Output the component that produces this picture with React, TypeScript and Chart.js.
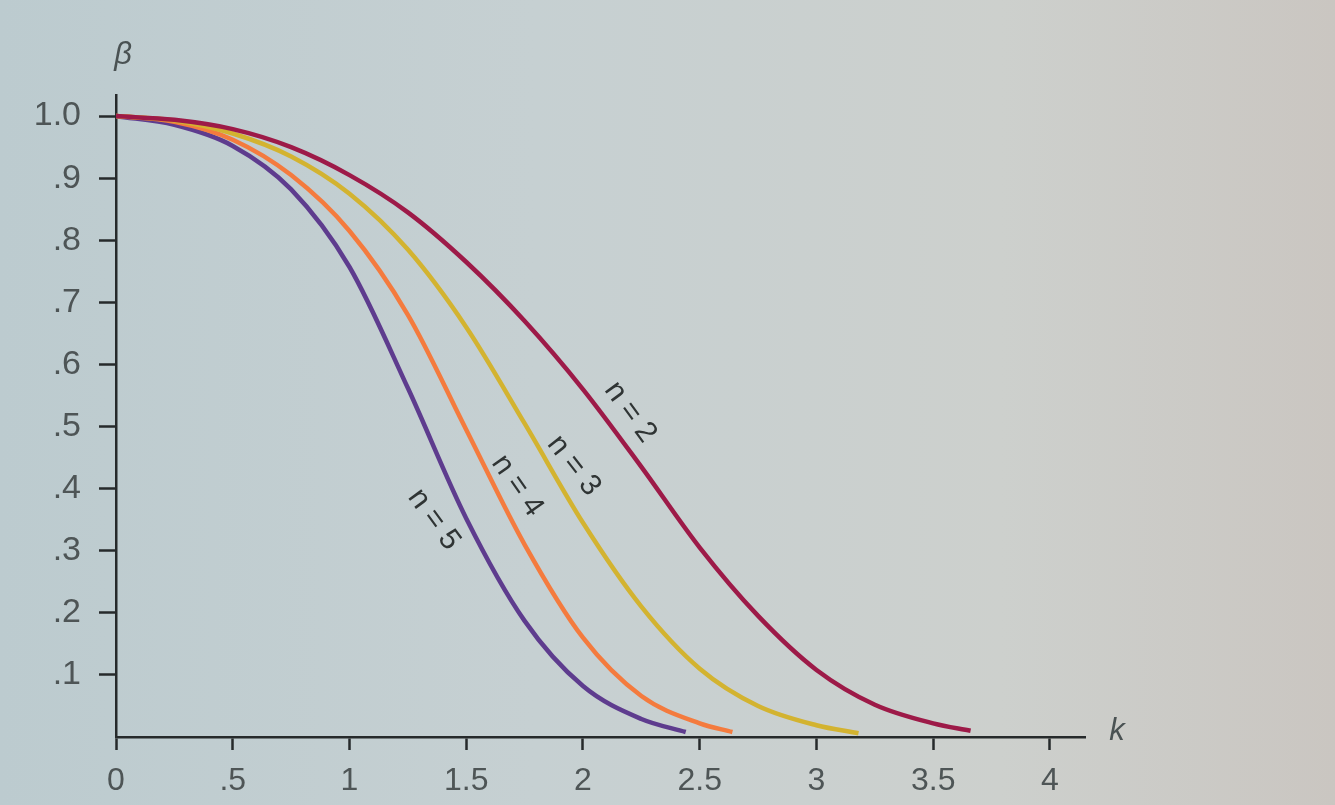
import React, { useEffect, useRef } from "react";
import { Chart, registerables } from "chart.js";

Chart.register(...registerables);

// ---- data (k = shift in sigma units, beta = probability of acceptance) ----
const seriesLabels = ["n = 2", "n = 3", "n = 4", "n = 5"];

const kN2 = [0, 0.25, 0.5, 0.75, 1.0, 1.25, 1.5, 1.75, 2.0, 2.25, 2.5, 2.75, 3.0, 3.25, 3.5, 3.66];
const betaN2 = [1.0, 0.994, 0.979, 0.95, 0.905, 0.845, 0.765, 0.67, 0.56, 0.435, 0.305, 0.195, 0.108, 0.052, 0.022, 0.01];

const kN3 = [0, 0.25, 0.5, 0.75, 1.0, 1.25, 1.5, 1.75, 2.0, 2.25, 2.5, 2.75, 3.0, 3.18];
const betaN3 = [1.0, 0.993, 0.972, 0.935, 0.875, 0.785, 0.66, 0.505, 0.345, 0.21, 0.11, 0.05, 0.019, 0.006];

const kN4 = [0, 0.25, 0.5, 0.75, 1.0, 1.25, 1.5, 1.75, 2.0, 2.25, 2.5, 2.64];
const betaN4 = [1.0, 0.991, 0.962, 0.905, 0.815, 0.68, 0.495, 0.31, 0.16, 0.066, 0.022, 0.008];

const kN5 = [0, 0.25, 0.5, 0.75, 1.0, 1.25, 1.5, 1.75, 2.0, 2.25, 2.44];
const betaN5 = [1.0, 0.986, 0.952, 0.882, 0.757, 0.562, 0.352, 0.187, 0.082, 0.029, 0.008];

const xTicks = [0, 0.5, 1, 1.5, 2, 2.5, 3, 3.5, 4];
const xTickLabels = ["0", ".5", "1", "1.5", "2", "2.5", "3", "3.5", "4"];
const yTicks = [0.1, 0.2, 0.3, 0.4, 0.5, 0.6, 0.7, 0.8, 0.9, 1.0];
const yTickLabels = [".1", ".2", ".3", ".4", ".5", ".6", ".7", ".8", ".9", "1.0"];

// ---- styling ----
const lineColors = ["#9d1a48", "#d3b330", "#f47b3e", "#5e3c8e"];
const axisColor = "#262a2b";
const tickTextColor = "#4e5556";
const fontFamily = '"Liberation Sans", Arial, sans-serif';

// curve label placement: beta level along the curve, perpendicular offset (px), text angle (deg)
const labelBetas = [0.5, 0.42, 0.39, 0.37];
const labelOffsets = [24, 21, 20, -30];
const labelAngles = [54, 52, 55, 54];

const seriesK = [kN2, kN3, kN4, kN5];
const seriesBeta = [betaN2, betaN3, betaN4, betaN5];

const curveLabelPlugin = {
  id: "curveLabels",
  afterDatasetsDraw(chart: any) {
    const { ctx } = chart;
    const xs = chart.scales.x;
    const ys = chart.scales.y;
    chart.data.datasets.forEach((ds: any, i: number) => {
      const pts = ds.data as { x: number; y: number }[];
      const target = labelBetas[i];
      for (let j = 0; j < pts.length - 1; j++) {
        const a = pts[j];
        const b = pts[j + 1];
        if (a.y >= target && b.y <= target) {
          const t = (a.y - target) / (a.y - b.y);
          const k = a.x + t * (b.x - a.x);
          const px = xs.getPixelForValue(k);
          const py = ys.getPixelForValue(target);
          const dx = xs.getPixelForValue(b.x) - xs.getPixelForValue(a.x);
          const dy = ys.getPixelForValue(b.y) - ys.getPixelForValue(a.y);
          const len = Math.hypot(dx, dy);
          const nx = dy / len;
          const ny = -dx / len;
          const cx = px + nx * labelOffsets[i];
          const cy = py + ny * labelOffsets[i];
          ctx.save();
          ctx.translate(cx, cy);
          ctx.rotate((labelAngles[i] * Math.PI) / 180);
          ctx.font = `30px ${fontFamily}`;
          ctx.fillStyle = "#2f3434";
          ctx.textAlign = "center";
          ctx.textBaseline = "middle";
          ctx.fillText(seriesLabels[i], 0, 0);
          ctx.restore();
          break;
        }
      }
    });
  },
};

const axisTitlePlugin = {
  id: "axisTitles",
  afterDraw(chart: any) {
    const { ctx, chartArea } = chart;
    ctx.save();
    ctx.font = `italic 31px ${fontFamily}`;
    ctx.fillStyle = "#4a5253";
    ctx.textAlign = "center";
    ctx.textBaseline = "middle";
    ctx.fillText("β", chartArea.left + 7, chartArea.top - 40);
    ctx.fillText("k", chartArea.right + 32, chartArea.bottom - 6);
    ctx.restore();
  },
};

export default function App() {
  const canvasRef = useRef<HTMLCanvasElement | null>(null);

  useEffect(() => {
    if (!canvasRef.current) return;
    const datasets = seriesLabels.map((label, i) => ({
      label,
      data: seriesK[i].map((k, j) => ({ x: k, y: seriesBeta[i][j] })),
      borderColor: lineColors[i],
      backgroundColor: lineColors[i],
      borderWidth: 4.5,
      pointRadius: 0,
      fill: false,
      cubicInterpolationMode: "monotone" as const,
      borderCapStyle: "butt" as const,
    }));

    const chart = new Chart(canvasRef.current, {
      type: "line",
      data: { datasets },
      options: {
        responsive: false,
        animation: false,
        devicePixelRatio: 1,
        layout: { padding: { top: 95, right: 250, left: 0, bottom: 0 } },
        plugins: {
          legend: { display: false },
          tooltip: { enabled: false },
        },
        scales: {
          x: {
            type: "linear",
            min: 0,
            max: 4.15,
            afterFit: (s: any) => {
              s.height = 68;
            },
            afterBuildTicks: (s: any) => {
              s.ticks = xTicks.map((v) => ({ value: v }));
            },
            ticks: {
              callback: (_v: any, idx: number) => xTickLabels[idx],
              font: { family: fontFamily, size: 32 },
              color: tickTextColor,
              padding: 12,
              maxRotation: 0,
              autoSkip: false,
            },
            grid: {
              drawOnChartArea: false,
              drawTicks: true,
              tickLength: 13,
              tickColor: axisColor,
              tickWidth: 2.5,
            },
            border: { display: true, color: axisColor, width: 2.5 },
          },
          y: {
            type: "linear",
            min: 0,
            max: 1.034,
            afterFit: (s: any) => {
              s.width = 116;
            },
            afterBuildTicks: (s: any) => {
              s.ticks = yTicks.map((v) => ({ value: v }));
            },
            ticks: {
              callback: (_v: any, idx: number) => yTickLabels[idx],
              font: { family: fontFamily, size: 34 },
              color: tickTextColor,
              padding: 18,
              autoSkip: false,
            },
            grid: {
              drawOnChartArea: false,
              drawTicks: true,
              tickLength: 17,
              tickColor: axisColor,
              tickWidth: 2.5,
            },
            border: { display: true, color: axisColor, width: 2.5 },
          },
        },
      },
      plugins: [curveLabelPlugin, axisTitlePlugin],
    });

    return () => {
      chart.destroy();
    };
  }, []);

  return (
    <div
      style={{
        position: "fixed",
        left: 0,
        top: 0,
        width: 1335,
        height: 805,
        background:
          "linear-gradient(90deg, #bccbcf 0%, #c6d0d2 40%, #cdd0cd 75%, #cac6c1 100%)",
      }}
    >
      <canvas ref={canvasRef} width={1335} height={805} style={{ display: "block", width: 1335, height: 805 }} />
    </div>
  );
}
